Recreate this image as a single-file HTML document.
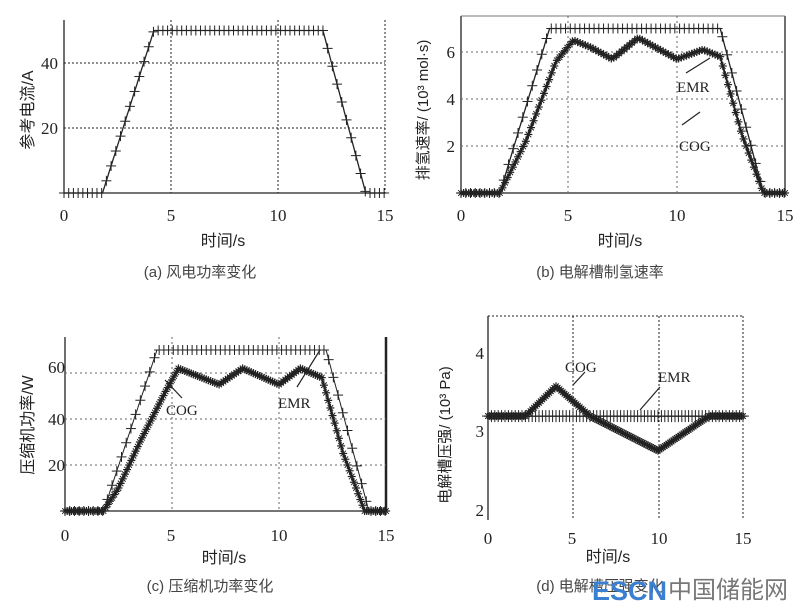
<!DOCTYPE html>
<html><head><meta charset="utf-8"><style>
html,body{margin:0;padding:0;background:#fff;}
svg{display:block;font-family:"Liberation Serif","Noto Serif CJK SC",serif;}
.cj{font-family:"Liberation Sans","Noto Sans CJK SC",sans-serif;}
</style></head><body>
<svg id="s" width="800" height="609" viewBox="0 0 800 609" xmlns="http://www.w3.org/2000/svg">
<g font-size="17" fill="#222">
<!-- (a) -->
<text x="64" y="221" text-anchor="middle">0</text><text x="171" y="221" text-anchor="middle">5</text><text x="278" y="221" text-anchor="middle">10</text><text x="385" y="221" text-anchor="middle">15</text>
<text x="58" y="69" text-anchor="end">40</text><text x="58" y="134" text-anchor="end">20</text>
<text class="cj" x="223" y="246" text-anchor="middle" font-size="16">时间/s</text>
<text class="cj" x="200" y="277" text-anchor="middle" font-size="15" fill="#444">(a) 风电功率变化</text>
<text class="cj" transform="translate(33,110) rotate(-90)" text-anchor="middle" font-size="16">参考电流/A</text>
<!-- (b) -->
<text x="461" y="221" text-anchor="middle">0</text><text x="568" y="221" text-anchor="middle">5</text><text x="677" y="221" text-anchor="middle">10</text><text x="785" y="221" text-anchor="middle">15</text>
<text x="455" y="58" text-anchor="end">6</text><text x="455" y="105" text-anchor="end">4</text><text x="455" y="152" text-anchor="end">2</text>
<text class="cj" x="620" y="246" text-anchor="middle" font-size="16">时间/s</text>
<text class="cj" x="600" y="277" text-anchor="middle" font-size="15" fill="#444">(b) 电解槽制氢速率</text>
<text class="cj" transform="translate(428,110) rotate(-90)" text-anchor="middle" font-size="15">排氢速率/ (10³ mol·s)</text>
<text x="677" y="92" font-size="15">EMR</text><text x="679" y="151" font-size="15">COG</text>
<!-- (c) -->
<text x="65" y="541" text-anchor="middle">0</text><text x="171" y="541" text-anchor="middle">5</text><text x="279" y="541" text-anchor="middle">10</text><text x="386" y="541" text-anchor="middle">15</text>
<text x="65" y="373" text-anchor="end">60</text><text x="65" y="425" text-anchor="end">40</text><text x="65" y="471" text-anchor="end">20</text>
<text class="cj" x="224" y="563" text-anchor="middle" font-size="16">时间/s</text>
<text class="cj" x="210" y="591" text-anchor="middle" font-size="15" fill="#444">(c) 压缩机功率变化</text>
<text class="cj" transform="translate(33,425) rotate(-90)" text-anchor="middle" font-size="16">压缩机功率/W</text>
<text x="166" y="415" font-size="15">COG</text><text x="278" y="408" font-size="15">EMR</text>
<!-- (d) -->
<text x="488" y="544" text-anchor="middle">0</text><text x="572" y="544" text-anchor="middle">5</text><text x="659" y="544" text-anchor="middle">10</text><text x="743" y="544" text-anchor="middle">15</text>
<text x="484" y="359" text-anchor="end">4</text><text x="484" y="437" text-anchor="end">3</text><text x="484" y="516" text-anchor="end">2</text>
<text class="cj" x="608" y="562" text-anchor="middle" font-size="16">时间/s</text>
<text class="cj" x="600" y="591" text-anchor="middle" font-size="15" fill="#444">(d) 电解槽压强变化</text>
<text class="cj" transform="translate(450,435) rotate(-90)" text-anchor="middle" font-size="15">电解槽压强/ (10³ Pa)</text>
<text x="565" y="372" font-size="15">COG</text><text x="658" y="382" font-size="15">EMR</text>
<text x="592" y="600" font-size="27" font-weight="bold" fill="#3a7fd0" font-family="Liberation Sans,sans-serif">ESCN</text>
<text class="cj" x="668" y="598" font-size="24" fill="#777">中国储能网</text>
</g>
<g id="plots"></g>
</svg>
<script>
var NS="http://www.w3.org/2000/svg",G=document.getElementById('plots');
function el(t,a){var e=document.createElementNS(NS,t);for(var k in a)e.setAttribute(k,a[k]);G.appendChild(e);return e;}
function line(x1,y1,x2,y2,w,dash,c){el('line',{x1:x1,y1:y1,x2:x2,y2:y2,stroke:c||'#222','stroke-width':w||1,'stroke-dasharray':dash||''});}
function interp(pts,t){if(t<=pts[0][0])return pts[0][1];for(var i=1;i<pts.length;i++){if(t<=pts[i][0]){var a=pts[i-1],b=pts[i];return a[1]+(b[1]-a[1])*(t-a[0])/(b[0]-a[0]);}}return pts[pts.length-1][1];}
function series(P,pts,step,mk,ms,w){var d='';for(var t=0;t<=15.001;t+=0.05){var x=P.x(t),y=P.y(interp(pts,t));d+=(d?'L':'M')+x.toFixed(1)+','+y.toFixed(1);}
el('path',{d:d,fill:'none',stroke:'#222','stroke-width':w||1.3});
for(var t=0;t<=15.001;t+=step){var x=P.x(t),y=P.y(interp(pts,t));
 if(mk=='+'){line(x-ms,y,x+ms,y,1);line(x,y-ms,x,y+ms,1);}
 else{line(x-ms,y,x+ms,y,1.2);line(x,y-ms,x,y+ms,1.2);line(x-ms*.7,y-ms*.7,x+ms*.7,y+ms*.7,1);line(x-ms*.7,y+ms*.7,x+ms*.7,y-ms*.7,1);}}}
function mkP(x0,x15,y0,ppu,v0){return{x:function(t){return x0+(x15-x0)*t/15},y:function(v){return y0-(v-(v0||0))*ppu}};}
// (a)
var A=mkP(64,385,193,3.25);
line(64,20,64,193,1.3);line(64,193,385,193,1.3);line(385,20,385,193,1,'2,2');
[171,278].forEach(function(x){line(x,20,x,193,1,'2,2');});
[63,128].forEach(function(y){line(64,y,385,y,1,'2,2');});
series(A,[[0,0],[1.8,0],[4.2,50],[12.1,50],[14.1,0],[15,0]],0.22,'+',5);
// (b)
var B=mkP(461,785,193,23.5);
line(461,16,461,193,1.3);line(461,193,785,193,1.3);line(785,16,785,193,1.3);line(461,16,785,16,1,'',"#777");
[568,677].forEach(function(x){line(x,16,x,193,1,'2,3',"#666");});
[52,99,146].forEach(function(y){line(461,y,785,y,1,'2,3',"#666");});
series(B,[[0,0],[1.8,0],[4.1,7],[12,7],[14,0],[15,0]],0.22,'+',5);
series(B,[[0,0],[1.8,0],[3,2.2],[4.4,5.6],[5.2,6.5],[6,6.2],[7,5.7],[8.2,6.6],[9,6.2],[10,5.7],[11.2,6.1],[12,5.8],[13,2.5],[14,0],[15,0]],0.12,'*',4,2);
line(686,73,710,58,1.2);line(682,125,700,112,1.2);
// (c)
var C=mkP(65,386,511,2.3);
line(65,337,65,511,1.3);line(65,511,386,511,1.3);line(386,337,386,511,2.5);
[172,279].forEach(function(x){line(x,337,x,511,1,'2,3',"#666");});
[373,419,465].forEach(function(y){line(65,y,386,y,1,'2,3',"#666");});
series(C,[[0,0],[1.8,0],[4.3,70],[12.2,70],[14.2,0],[15,0]],0.22,'+',5,1);
series(C,[[0,0],[1.8,0],[2.5,10],[3.5,30],[4.7,52],[5.3,62],[7.2,55],[8.3,62],[10,55],[11,62],[12,58],[13,25],[14,0],[15,0]],0.1,'*',4,2);
line(165,380,182,398,1.2);line(297,387,320,350,1.2);
// (d)
var D=mkP(488,743,431,78.5,3);
line(488,316,488,520,1.3);line(743,316,743,520,1,'2,2');line(488,316,743,316,1,'2,2');
[573,659].forEach(function(x){line(x,316,x,520,1,'2,2');});
series(D,[[0,3.19],[15,3.19]],0.2,'+',6);
series(D,[[0,3.19],[2.2,3.19],[4,3.57],[6,3.19],[10,2.75],[13,3.19],[15,3.19]],0.1,'*',4,2);
line(573,385,585,372,1.2);line(640,410,660,387,1.2);
</script>
</body></html>
